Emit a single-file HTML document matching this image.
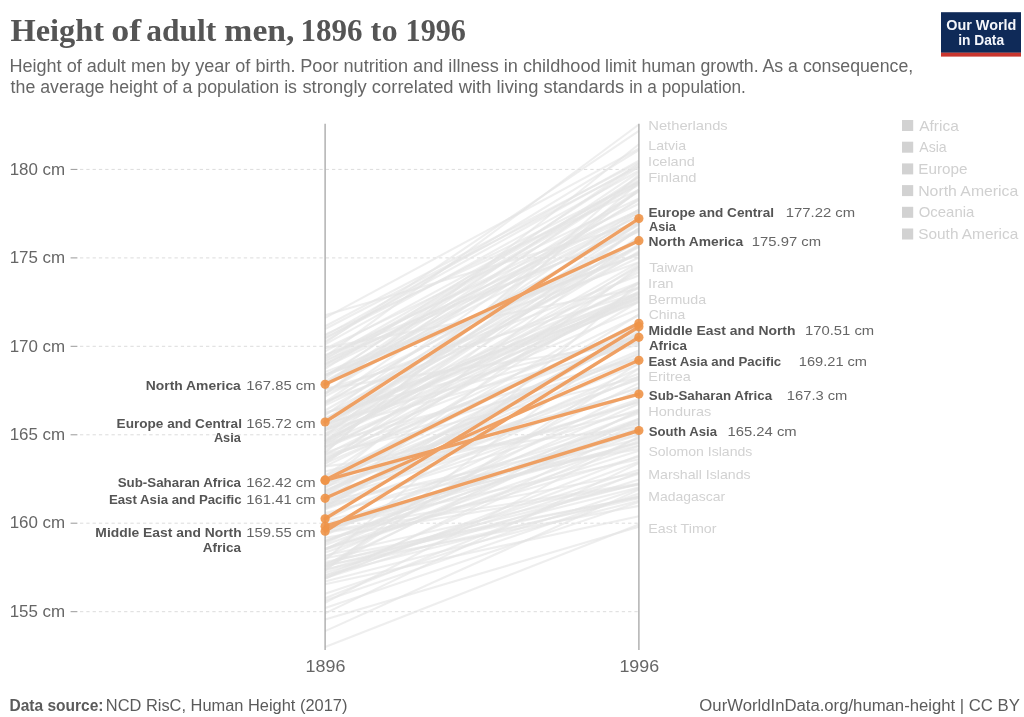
<!DOCTYPE html>
<html lang="en"><head><meta charset="utf-8"><title>Height of adult men, 1896 to 1996</title>
<style>
html,body{margin:0;padding:0;background:#fff;}
body{width:1024px;height:717px;overflow:hidden;}
svg{display:block;font-family:"Liberation Sans",Arial,sans-serif;}
</style></head><body>
<svg width="1024" height="717" viewBox="0 0 1024 717">
<rect width="1024" height="717" fill="#fff"/>
<rect x="941" y="12.2" width="80" height="40.6" fill="#0f2a58"/><rect x="941" y="52.7" width="80" height="3.9" fill="#c9362e"/>
<g stroke="#dcdcdc" stroke-width="1" stroke-dasharray="3.3,3" fill="none">
<line x1="80" y1="169.4" x2="638.9" y2="169.4"/>
<line x1="80" y1="257.9" x2="638.9" y2="257.9"/>
<line x1="80" y1="346.3" x2="638.9" y2="346.3"/>
<line x1="80" y1="434.8" x2="638.9" y2="434.8"/>
<line x1="80" y1="523.2" x2="638.9" y2="523.2"/>
<line x1="80" y1="611.7" x2="638.9" y2="611.7"/>
</g>
<g stroke="#999" stroke-width="1">
<line x1="70.6" y1="169.4" x2="77.4" y2="169.4"/>
<line x1="70.6" y1="257.9" x2="77.4" y2="257.9"/>
<line x1="70.6" y1="346.3" x2="77.4" y2="346.3"/>
<line x1="70.6" y1="434.8" x2="77.4" y2="434.8"/>
<line x1="70.6" y1="523.2" x2="77.4" y2="523.2"/>
<line x1="70.6" y1="611.7" x2="77.4" y2="611.7"/>
</g>
<g stroke="#e3e3e3" stroke-width="2.1" stroke-linecap="butt" stroke-opacity="0.62">
<line x1="325.1" y1="356.9" x2="638.9" y2="124.5"/>
<line x1="325.1" y1="394.1" x2="638.9" y2="144.3"/>
<line x1="325.1" y1="335.7" x2="638.9" y2="160.7"/>
<line x1="325.1" y1="376.4" x2="638.9" y2="176.7"/>
<line x1="325.1" y1="502.0" x2="638.9" y2="266.7"/>
<line x1="325.1" y1="560.3" x2="638.9" y2="282.6"/>
<line x1="325.1" y1="425.9" x2="638.9" y2="298.5"/>
<line x1="325.1" y1="505.5" x2="638.9" y2="314.5"/>
<line x1="325.1" y1="519.7" x2="638.9" y2="376.4"/>
<line x1="325.1" y1="567.4" x2="638.9" y2="410.0"/>
<line x1="325.1" y1="549.7" x2="638.9" y2="450.7"/>
<line x1="325.1" y1="572.7" x2="638.9" y2="473.7"/>
<line x1="325.1" y1="562.1" x2="638.9" y2="496.7"/>
<line x1="325.1" y1="647.0" x2="638.9" y2="524.4"/>
<line x1="325.1" y1="631.1" x2="638.9" y2="489.6"/>
<line x1="325.1" y1="619.6" x2="638.9" y2="526.7"/>
<line x1="325.1" y1="613.4" x2="638.9" y2="463.1"/>
<line x1="325.1" y1="608.1" x2="638.9" y2="502.0"/>
<line x1="325.1" y1="602.8" x2="638.9" y2="436.5"/>
<line x1="325.1" y1="471.5" x2="638.9" y2="394.1"/>
<line x1="325.1" y1="563.5" x2="638.9" y2="483.8"/>
<line x1="325.1" y1="441.3" x2="638.9" y2="272.0"/>
<line x1="325.1" y1="417.9" x2="638.9" y2="296.8"/>
<line x1="325.1" y1="375.5" x2="638.9" y2="219.5"/>
<line x1="325.1" y1="541.2" x2="638.9" y2="434.2"/>
<line x1="325.1" y1="389.5" x2="638.9" y2="292.7"/>
<line x1="325.1" y1="382.6" x2="638.9" y2="222.5"/>
<line x1="325.1" y1="483.8" x2="638.9" y2="287.2"/>
<line x1="325.1" y1="383.1" x2="638.9" y2="246.7"/>
<line x1="325.1" y1="499.8" x2="638.9" y2="402.0"/>
<line x1="325.1" y1="348.6" x2="638.9" y2="198.4"/>
<line x1="325.1" y1="540.7" x2="638.9" y2="421.7"/>
<line x1="325.1" y1="372.0" x2="638.9" y2="254.0"/>
<line x1="325.1" y1="504.3" x2="638.9" y2="434.8"/>
<line x1="325.1" y1="497.4" x2="638.9" y2="373.5"/>
<line x1="325.1" y1="365.1" x2="638.9" y2="210.3"/>
<line x1="325.1" y1="497.0" x2="638.9" y2="378.8"/>
<line x1="325.1" y1="403.8" x2="638.9" y2="223.4"/>
<line x1="325.1" y1="508.7" x2="638.9" y2="368.4"/>
<line x1="325.1" y1="358.3" x2="638.9" y2="203.7"/>
<line x1="325.1" y1="329.0" x2="638.9" y2="166.7"/>
<line x1="325.1" y1="570.3" x2="638.9" y2="331.6"/>
<line x1="325.1" y1="449.4" x2="638.9" y2="282.3"/>
<line x1="325.1" y1="375.3" x2="638.9" y2="262.3"/>
<line x1="325.1" y1="452.8" x2="638.9" y2="174.5"/>
<line x1="325.1" y1="531.9" x2="638.9" y2="472.8"/>
<line x1="325.1" y1="466.4" x2="638.9" y2="315.3"/>
<line x1="325.1" y1="423.6" x2="638.9" y2="336.7"/>
<line x1="325.1" y1="485.0" x2="638.9" y2="350.5"/>
<line x1="325.1" y1="549.2" x2="638.9" y2="411.8"/>
<line x1="325.1" y1="430.2" x2="638.9" y2="297.1"/>
<line x1="325.1" y1="483.4" x2="638.9" y2="321.9"/>
<line x1="325.1" y1="441.6" x2="638.9" y2="262.3"/>
<line x1="325.1" y1="393.0" x2="638.9" y2="275.5"/>
<line x1="325.1" y1="491.4" x2="638.9" y2="333.7"/>
<line x1="325.1" y1="581.6" x2="638.9" y2="500.7"/>
<line x1="325.1" y1="440.9" x2="638.9" y2="211.3"/>
<line x1="325.1" y1="543.2" x2="638.9" y2="403.8"/>
<line x1="325.1" y1="375.0" x2="638.9" y2="253.3"/>
<line x1="325.1" y1="461.3" x2="638.9" y2="294.3"/>
<line x1="325.1" y1="494.2" x2="638.9" y2="335.0"/>
<line x1="325.1" y1="436.2" x2="638.9" y2="189.7"/>
<line x1="325.1" y1="447.3" x2="638.9" y2="327.5"/>
<line x1="325.1" y1="378.5" x2="638.9" y2="163.4"/>
<line x1="325.1" y1="523.4" x2="638.9" y2="442.9"/>
<line x1="325.1" y1="512.9" x2="638.9" y2="439.0"/>
<line x1="325.1" y1="338.5" x2="638.9" y2="165.2"/>
<line x1="325.1" y1="486.8" x2="638.9" y2="379.6"/>
<line x1="325.1" y1="548.5" x2="638.9" y2="456.5"/>
<line x1="325.1" y1="326.3" x2="638.9" y2="162.5"/>
<line x1="325.1" y1="456.7" x2="638.9" y2="358.3"/>
<line x1="325.1" y1="507.6" x2="638.9" y2="409.5"/>
<line x1="325.1" y1="494.5" x2="638.9" y2="387.7"/>
<line x1="325.1" y1="337.8" x2="638.9" y2="181.8"/>
<line x1="325.1" y1="446.8" x2="638.9" y2="293.9"/>
<line x1="325.1" y1="403.1" x2="638.9" y2="224.6"/>
<line x1="325.1" y1="415.3" x2="638.9" y2="190.8"/>
<line x1="325.1" y1="355.3" x2="638.9" y2="231.8"/>
<line x1="325.1" y1="508.0" x2="638.9" y2="331.1"/>
<line x1="325.1" y1="454.4" x2="638.9" y2="377.3"/>
<line x1="325.1" y1="491.2" x2="638.9" y2="352.7"/>
<line x1="325.1" y1="584.2" x2="638.9" y2="516.3"/>
<line x1="325.1" y1="537.7" x2="638.9" y2="484.6"/>
<line x1="325.1" y1="527.4" x2="638.9" y2="413.3"/>
<line x1="325.1" y1="446.6" x2="638.9" y2="228.3"/>
<line x1="325.1" y1="383.3" x2="638.9" y2="172.1"/>
<line x1="325.1" y1="393.5" x2="638.9" y2="176.8"/>
<line x1="325.1" y1="578.7" x2="638.9" y2="427.5"/>
<line x1="325.1" y1="359.0" x2="638.9" y2="179.8"/>
<line x1="325.1" y1="430.3" x2="638.9" y2="246.9"/>
<line x1="325.1" y1="541.6" x2="638.9" y2="419.5"/>
<line x1="325.1" y1="421.0" x2="638.9" y2="252.4"/>
<line x1="325.1" y1="506.7" x2="638.9" y2="328.1"/>
<line x1="325.1" y1="341.5" x2="638.9" y2="150.1"/>
<line x1="325.1" y1="355.5" x2="638.9" y2="210.3"/>
<line x1="325.1" y1="347.9" x2="638.9" y2="288.8"/>
<line x1="325.1" y1="482.5" x2="638.9" y2="411.6"/>
<line x1="325.1" y1="381.0" x2="638.9" y2="215.6"/>
<line x1="325.1" y1="477.2" x2="638.9" y2="322.8"/>
<line x1="325.1" y1="531.5" x2="638.9" y2="418.7"/>
<line x1="325.1" y1="401.8" x2="638.9" y2="282.6"/>
<line x1="325.1" y1="490.3" x2="638.9" y2="364.0"/>
<line x1="325.1" y1="475.6" x2="638.9" y2="269.0"/>
<line x1="325.1" y1="428.6" x2="638.9" y2="293.9"/>
<line x1="325.1" y1="514.9" x2="638.9" y2="422.5"/>
<line x1="325.1" y1="351.3" x2="638.9" y2="181.6"/>
<line x1="325.1" y1="419.4" x2="638.9" y2="287.0"/>
<line x1="325.1" y1="549.6" x2="638.9" y2="389.5"/>
<line x1="325.1" y1="334.6" x2="638.9" y2="189.9"/>
<line x1="325.1" y1="441.3" x2="638.9" y2="251.3"/>
<line x1="325.1" y1="555.7" x2="638.9" y2="484.1"/>
<line x1="325.1" y1="315.2" x2="638.9" y2="223.2"/>
<line x1="325.1" y1="441.3" x2="638.9" y2="266.7"/>
<line x1="325.1" y1="578.2" x2="638.9" y2="455.4"/>
<line x1="325.1" y1="598.2" x2="638.9" y2="472.3"/>
<line x1="325.1" y1="436.3" x2="638.9" y2="283.3"/>
<line x1="325.1" y1="447.1" x2="638.9" y2="299.6"/>
<line x1="325.1" y1="488.0" x2="638.9" y2="301.5"/>
<line x1="325.1" y1="360.5" x2="638.9" y2="229.7"/>
<line x1="325.1" y1="492.6" x2="638.9" y2="357.4"/>
<line x1="325.1" y1="444.3" x2="638.9" y2="236.8"/>
<line x1="325.1" y1="569.5" x2="638.9" y2="362.9"/>
<line x1="325.1" y1="558.2" x2="638.9" y2="497.4"/>
<line x1="325.1" y1="577.3" x2="638.9" y2="461.8"/>
<line x1="325.1" y1="420.2" x2="638.9" y2="292.7"/>
<line x1="325.1" y1="364.5" x2="638.9" y2="184.6"/>
<line x1="325.1" y1="405.4" x2="638.9" y2="257.5"/>
<line x1="325.1" y1="545.0" x2="638.9" y2="429.3"/>
<line x1="325.1" y1="454.7" x2="638.9" y2="297.7"/>
<line x1="325.1" y1="565.3" x2="638.9" y2="505.9"/>
<line x1="325.1" y1="453.0" x2="638.9" y2="341.2"/>
<line x1="325.1" y1="482.2" x2="638.9" y2="337.5"/>
<line x1="325.1" y1="396.2" x2="638.9" y2="239.1"/>
<line x1="325.1" y1="385.6" x2="638.9" y2="200.2"/>
<line x1="325.1" y1="577.9" x2="638.9" y2="479.5"/>
<line x1="325.1" y1="566.5" x2="638.9" y2="487.5"/>
<line x1="325.1" y1="549.0" x2="638.9" y2="441.1"/>
<line x1="325.1" y1="464.1" x2="638.9" y2="228.0"/>
<line x1="325.1" y1="466.4" x2="638.9" y2="427.3"/>
<line x1="325.1" y1="520.7" x2="638.9" y2="445.4"/>
<line x1="325.1" y1="509.2" x2="638.9" y2="399.0"/>
<line x1="325.1" y1="363.8" x2="638.9" y2="212.7"/>
<line x1="325.1" y1="529.2" x2="638.9" y2="442.4"/>
<line x1="325.1" y1="495.8" x2="638.9" y2="402.0"/>
<line x1="325.1" y1="564.8" x2="638.9" y2="419.0"/>
<line x1="325.1" y1="388.6" x2="638.9" y2="342.9"/>
<line x1="325.1" y1="361.9" x2="638.9" y2="183.4"/>
<line x1="325.1" y1="429.4" x2="638.9" y2="344.5"/>
<line x1="325.1" y1="344.4" x2="638.9" y2="170.6"/>
<line x1="325.1" y1="482.3" x2="638.9" y2="236.3"/>
<line x1="325.1" y1="600.5" x2="638.9" y2="493.5"/>
<line x1="325.1" y1="433.9" x2="638.9" y2="301.5"/>
<line x1="325.1" y1="556.5" x2="638.9" y2="423.8"/>
<line x1="325.1" y1="532.6" x2="638.9" y2="483.6"/>
<line x1="325.1" y1="458.5" x2="638.9" y2="336.0"/>
<line x1="325.1" y1="503.6" x2="638.9" y2="328.6"/>
<line x1="325.1" y1="575.0" x2="638.9" y2="496.1"/>
<line x1="325.1" y1="410.5" x2="638.9" y2="230.3"/>
<line x1="325.1" y1="438.8" x2="638.9" y2="296.8"/>
<line x1="325.1" y1="530.6" x2="638.9" y2="400.3"/>
<line x1="325.1" y1="552.6" x2="638.9" y2="445.9"/>
<line x1="325.1" y1="452.1" x2="638.9" y2="182.8"/>
<line x1="325.1" y1="317.8" x2="638.9" y2="148.7"/>
<line x1="325.1" y1="425.7" x2="638.9" y2="230.1"/>
<line x1="325.1" y1="570.6" x2="638.9" y2="469.8"/>
<line x1="325.1" y1="461.3" x2="638.9" y2="291.5"/>
<line x1="325.1" y1="383.8" x2="638.9" y2="181.6"/>
<line x1="325.1" y1="425.4" x2="638.9" y2="244.6"/>
<line x1="325.1" y1="442.4" x2="638.9" y2="308.8"/>
<line x1="325.1" y1="421.0" x2="638.9" y2="293.4"/>
<line x1="325.1" y1="569.4" x2="638.9" y2="498.3"/>
<line x1="325.1" y1="575.9" x2="638.9" y2="437.4"/>
<line x1="325.1" y1="535.4" x2="638.9" y2="383.1"/>
<line x1="325.1" y1="500.0" x2="638.9" y2="449.1"/>
<line x1="325.1" y1="480.4" x2="638.9" y2="354.6"/>
<line x1="325.1" y1="393.0" x2="638.9" y2="199.1"/>
<line x1="325.1" y1="367.0" x2="638.9" y2="216.1"/>
<line x1="325.1" y1="529.2" x2="638.9" y2="427.7"/>
<line x1="325.1" y1="385.6" x2="638.9" y2="191.3"/>
<line x1="325.1" y1="419.5" x2="638.9" y2="209.4"/>
<line x1="325.1" y1="506.6" x2="638.9" y2="333.2"/>
<line x1="325.1" y1="475.8" x2="638.9" y2="324.7"/>
<line x1="325.1" y1="402.2" x2="638.9" y2="189.6"/>
<line x1="325.1" y1="460.4" x2="638.9" y2="264.6"/>
<line x1="325.1" y1="433.3" x2="638.9" y2="245.6"/>
<line x1="325.1" y1="414.6" x2="638.9" y2="241.0"/>
<line x1="325.1" y1="530.1" x2="638.9" y2="431.4"/>
<line x1="325.1" y1="463.2" x2="638.9" y2="328.4"/>
<line x1="325.1" y1="527.8" x2="638.9" y2="459.2"/>
<line x1="325.1" y1="566.5" x2="638.9" y2="368.6"/>
<line x1="325.1" y1="421.5" x2="638.9" y2="240.7"/>
<line x1="325.1" y1="368.9" x2="638.9" y2="166.9"/>
<line x1="325.1" y1="443.2" x2="638.9" y2="357.8"/>
<line x1="325.1" y1="593.8" x2="638.9" y2="488.5"/>
<line x1="325.1" y1="497.9" x2="638.9" y2="387.3"/>
<line x1="325.1" y1="342.6" x2="638.9" y2="130.8"/>
<line x1="325.1" y1="428.9" x2="638.9" y2="223.9"/>
<line x1="325.1" y1="412.5" x2="638.9" y2="336.2"/>
<line x1="325.1" y1="413.3" x2="638.9" y2="302.1"/>
<line x1="325.1" y1="374.8" x2="638.9" y2="254.8"/>
</g>
<g stroke="#a4a4a4" stroke-width="1.3"><line x1="325.1" y1="123.8" x2="325.1" y2="650"/><line x1="638.9" y1="123.8" x2="638.9" y2="650"/></g>
<g stroke="#ef9a58" stroke-width="3.4" stroke-linecap="round" opacity="0.92">
<line x1="325.1" y1="384.3" x2="638.9" y2="240.7"/>
<line x1="325.1" y1="422.0" x2="638.9" y2="218.6"/>
<line x1="325.1" y1="479.9" x2="638.9" y2="323.3"/>
<line x1="325.1" y1="480.4" x2="638.9" y2="394.1"/>
<line x1="325.1" y1="498.3" x2="638.9" y2="360.3"/>
<line x1="325.1" y1="518.8" x2="638.9" y2="326.8"/>
<line x1="325.1" y1="526.2" x2="638.9" y2="430.5"/>
<line x1="325.1" y1="531.2" x2="638.9" y2="337.3"/>
</g>
<g fill="#ee9448" fill-opacity="0.9">
<circle cx="325.1" cy="384.3" r="4.6"/><circle cx="638.9" cy="240.7" r="4.6"/>
<circle cx="325.1" cy="422.0" r="4.6"/><circle cx="638.9" cy="218.6" r="4.6"/>
<circle cx="325.1" cy="479.9" r="4.6"/><circle cx="638.9" cy="323.3" r="4.6"/>
<circle cx="325.1" cy="480.4" r="4.6"/><circle cx="638.9" cy="394.1" r="4.6"/>
<circle cx="325.1" cy="498.3" r="4.6"/><circle cx="638.9" cy="360.3" r="4.6"/>
<circle cx="325.1" cy="518.8" r="4.6"/><circle cx="638.9" cy="326.8" r="4.6"/>
<circle cx="325.1" cy="526.2" r="4.6"/><circle cx="638.9" cy="430.5" r="4.6"/>
<circle cx="325.1" cy="531.2" r="4.6"/><circle cx="638.9" cy="337.3" r="4.6"/>
</g>
<rect x="902" y="120.0" width="11.2" height="11" fill="#d2d2d2"/>
<rect x="902" y="141.7" width="11.2" height="11" fill="#d2d2d2"/>
<rect x="902" y="163.4" width="11.2" height="11" fill="#d2d2d2"/>
<rect x="902" y="185.1" width="11.2" height="11" fill="#d2d2d2"/>
<rect x="902" y="206.8" width="11.2" height="11" fill="#d2d2d2"/>
<rect x="902" y="228.5" width="11.2" height="11" fill="#d2d2d2"/>
<text y="41.3" font-size="31" font-weight="bold" font-family="'Liberation Serif','Times New Roman',serif" fill="#555"><tspan x="10.44" textLength="93.61" lengthAdjust="spacingAndGlyphs">Height</tspan> <tspan x="111.37" textLength="30.02" lengthAdjust="spacingAndGlyphs">of</tspan> <tspan x="146.16" textLength="70.0" lengthAdjust="spacingAndGlyphs">adult</tspan> <tspan x="224.37" textLength="70.15" lengthAdjust="spacingAndGlyphs">men,</tspan> <tspan x="300.5" textLength="62.03" lengthAdjust="spacingAndGlyphs">1896</tspan> <tspan x="370.62" textLength="26.94" lengthAdjust="spacingAndGlyphs">to</tspan> <tspan x="405.57" textLength="60.28" lengthAdjust="spacingAndGlyphs">1996</tspan></text>
<text y="71.5" font-size="17.5" fill="#666"><tspan x="9.41" textLength="286.14" lengthAdjust="spacingAndGlyphs">Height of adult men by year of birth.</tspan> <tspan x="300.2" textLength="300.36" lengthAdjust="spacingAndGlyphs">Poor nutrition and illness in childhood</tspan> <tspan x="604.99" textLength="308.24" lengthAdjust="spacingAndGlyphs">limit human growth. As a consequence,</tspan></text>
<text y="93" font-size="17.5" fill="#666"><tspan x="10.62" textLength="286.4" lengthAdjust="spacingAndGlyphs">the average height of a population is</tspan> <tspan x="302.4" textLength="321.79" lengthAdjust="spacingAndGlyphs">strongly correlated with living standards</tspan> <tspan x="629.13" textLength="116.79" lengthAdjust="spacingAndGlyphs">in a population.</tspan></text>
<text y="30.3" font-size="14" font-weight="bold" fill="#f4f6fb"><tspan x="946.24" textLength="70.12" lengthAdjust="spacingAndGlyphs">Our World</tspan></text>
<text y="45.4" font-size="14" font-weight="bold" fill="#f4f6fb"><tspan x="958.17" textLength="45.95" lengthAdjust="spacingAndGlyphs">in Data</tspan></text>
<text y="174.6" font-size="16" fill="#666"><tspan x="9.69" textLength="55.48" lengthAdjust="spacingAndGlyphs">180 cm</tspan></text>
<text y="263.1" font-size="16" fill="#666"><tspan x="9.69" textLength="55.48" lengthAdjust="spacingAndGlyphs">175 cm</tspan></text>
<text y="351.5" font-size="16" fill="#666"><tspan x="9.69" textLength="55.48" lengthAdjust="spacingAndGlyphs">170 cm</tspan></text>
<text y="439.9" font-size="16" fill="#666"><tspan x="9.69" textLength="55.48" lengthAdjust="spacingAndGlyphs">165 cm</tspan></text>
<text y="528.4" font-size="16" fill="#666"><tspan x="9.69" textLength="55.48" lengthAdjust="spacingAndGlyphs">160 cm</tspan></text>
<text y="616.9" font-size="16" fill="#666"><tspan x="9.69" textLength="55.48" lengthAdjust="spacingAndGlyphs">155 cm</tspan></text>
<text y="671.8" font-size="16" fill="#666"><tspan x="305.62" textLength="39.81" lengthAdjust="spacingAndGlyphs">1896</tspan></text>
<text y="671.8" font-size="16" fill="#666"><tspan x="619.43" textLength="39.69" lengthAdjust="spacingAndGlyphs">1996</tspan></text>
<text y="129.5" font-size="13.5" fill="#d2d2d2"><tspan x="648.27" textLength="79.46" lengthAdjust="spacingAndGlyphs">Netherlands</tspan></text>
<text y="149.5" font-size="13.5" fill="#d2d2d2"><tspan x="648.32" textLength="37.79" lengthAdjust="spacingAndGlyphs">Latvia</tspan></text>
<text y="165.5" font-size="13.5" fill="#d2d2d2"><tspan x="648.14" textLength="46.62" lengthAdjust="spacingAndGlyphs">Iceland</tspan></text>
<text y="182" font-size="13.5" fill="#d2d2d2"><tspan x="648.27" textLength="48.28" lengthAdjust="spacingAndGlyphs">Finland</tspan></text>
<text y="272" font-size="13.5" fill="#d2d2d2"><tspan x="649.17" textLength="44.36" lengthAdjust="spacingAndGlyphs">Taiwan</tspan></text>
<text y="288.2" font-size="13.5" fill="#d2d2d2"><tspan x="648.1" textLength="25.5" lengthAdjust="spacingAndGlyphs">Iran</tspan></text>
<text y="304.2" font-size="13.5" fill="#d2d2d2"><tspan x="648.31" textLength="57.8" lengthAdjust="spacingAndGlyphs">Bermuda</tspan></text>
<text y="319.2" font-size="13.5" fill="#d2d2d2"><tspan x="648.76" textLength="36.4" lengthAdjust="spacingAndGlyphs">China</tspan></text>
<text y="380.7" font-size="13.5" fill="#d2d2d2"><tspan x="648.3" textLength="42.51" lengthAdjust="spacingAndGlyphs">Eritrea</tspan></text>
<text y="415.5" font-size="13.5" fill="#d2d2d2"><tspan x="648.29" textLength="62.94" lengthAdjust="spacingAndGlyphs">Honduras</tspan></text>
<text y="455.5" font-size="13.5" fill="#d2d2d2"><tspan x="648.41" textLength="103.96" lengthAdjust="spacingAndGlyphs">Solomon Islands</tspan></text>
<text y="479.2" font-size="13.5" fill="#d2d2d2"><tspan x="648.32" textLength="102.36" lengthAdjust="spacingAndGlyphs">Marshall Islands</tspan></text>
<text y="501.2" font-size="13.5" fill="#d2d2d2"><tspan x="648.33" textLength="76.84" lengthAdjust="spacingAndGlyphs">Madagascar</tspan></text>
<text y="532.5" font-size="13.5" fill="#d2d2d2"><tspan x="648.31" textLength="68.2" lengthAdjust="spacingAndGlyphs">East Timor</tspan></text>
<text y="216.7" font-size="13.5" font-weight="bold" fill="#555"><tspan x="648.48" textLength="125.52" lengthAdjust="spacingAndGlyphs">Europe and Central</tspan></text>
<text y="216.7" font-size="13.5" fill="#666"><tspan x="785.85" textLength="69.29" lengthAdjust="spacingAndGlyphs">177.22 cm</tspan></text>
<text y="231.2" font-size="13.5" font-weight="bold" fill="#555"><tspan x="649.0" textLength="26.71" lengthAdjust="spacingAndGlyphs">Asia</tspan></text>
<text y="246.2" font-size="13.5" font-weight="bold" fill="#555"><tspan x="648.49" textLength="94.78" lengthAdjust="spacingAndGlyphs">North America</tspan></text>
<text y="246.2" font-size="13.5" fill="#666"><tspan x="751.85" textLength="69.18" lengthAdjust="spacingAndGlyphs">175.97 cm</tspan></text>
<text y="335" font-size="13.5" font-weight="bold" fill="#555"><tspan x="648.49" textLength="147.03" lengthAdjust="spacingAndGlyphs">Middle East and North</tspan></text>
<text y="335" font-size="13.5" fill="#666"><tspan x="805.06" textLength="69.07" lengthAdjust="spacingAndGlyphs">170.51 cm</tspan></text>
<text y="349.5" font-size="13.5" font-weight="bold" fill="#555"><tspan x="648.97" textLength="37.89" lengthAdjust="spacingAndGlyphs">Africa</tspan></text>
<text y="365.5" font-size="13.5" font-weight="bold" fill="#555"><tspan x="648.49" textLength="132.74" lengthAdjust="spacingAndGlyphs">East Asia and Pacific</tspan></text>
<text y="365.5" font-size="13.5" fill="#666"><tspan x="798.87" textLength="68.18" lengthAdjust="spacingAndGlyphs">169.21 cm</tspan></text>
<text y="399.5" font-size="13.5" font-weight="bold" fill="#555"><tspan x="648.76" textLength="123.35" lengthAdjust="spacingAndGlyphs">Sub-Saharan Africa</tspan></text>
<text y="399.5" font-size="13.5" fill="#666"><tspan x="786.86" textLength="60.52" lengthAdjust="spacingAndGlyphs">167.3 cm</tspan></text>
<text y="435.5" font-size="13.5" font-weight="bold" fill="#555"><tspan x="648.77" textLength="68.22" lengthAdjust="spacingAndGlyphs">South Asia</tspan></text>
<text y="435.5" font-size="13.5" fill="#666"><tspan x="727.56" textLength="69.07" lengthAdjust="spacingAndGlyphs">165.24 cm</tspan></text>
<text y="389.9" font-size="13.5" font-weight="bold" fill="#555"><tspan x="145.79" textLength="95.03" lengthAdjust="spacingAndGlyphs">North America</tspan></text>
<text y="389.9" font-size="13.5" fill="#666"><tspan x="246.35" textLength="69.18" lengthAdjust="spacingAndGlyphs">167.85 cm</tspan></text>
<text y="427.8" font-size="13.5" font-weight="bold" fill="#555"><tspan x="116.58" textLength="125.37" lengthAdjust="spacingAndGlyphs">Europe and Central</tspan></text>
<text y="427.8" font-size="13.5" fill="#666"><tspan x="246.35" textLength="69.18" lengthAdjust="spacingAndGlyphs">165.72 cm</tspan></text>
<text y="442.1" font-size="13.5" font-weight="bold" fill="#555"><tspan x="213.89" textLength="27.01" lengthAdjust="spacingAndGlyphs">Asia</tspan></text>
<text y="486.6" font-size="13.5" font-weight="bold" fill="#555"><tspan x="117.66" textLength="123.35" lengthAdjust="spacingAndGlyphs">Sub-Saharan Africa</tspan></text>
<text y="486.6" font-size="13.5" fill="#666"><tspan x="246.35" textLength="69.18" lengthAdjust="spacingAndGlyphs">162.42 cm</tspan></text>
<text y="503.8" font-size="13.5" font-weight="bold" fill="#555"><tspan x="108.89" textLength="132.74" lengthAdjust="spacingAndGlyphs">East Asia and Pacific</tspan></text>
<text y="503.8" font-size="13.5" fill="#666"><tspan x="246.35" textLength="69.18" lengthAdjust="spacingAndGlyphs">161.41 cm</tspan></text>
<text y="537" font-size="13.5" font-weight="bold" fill="#555"><tspan x="95.39" textLength="146.29" lengthAdjust="spacingAndGlyphs">Middle East and North</tspan></text>
<text y="537" font-size="13.5" fill="#666"><tspan x="246.35" textLength="69.18" lengthAdjust="spacingAndGlyphs">159.55 cm</tspan></text>
<text y="551.5" font-size="13.5" font-weight="bold" fill="#555"><tspan x="202.66" textLength="38.27" lengthAdjust="spacingAndGlyphs">Africa</tspan></text>
<text y="130.6" font-size="14.5" fill="#d0d0d0"><tspan x="919.24" textLength="39.55" lengthAdjust="spacingAndGlyphs">Africa</tspan></text>
<text y="152.3" font-size="14.5" fill="#d0d0d0"><tspan x="919.25" textLength="27.43" lengthAdjust="spacingAndGlyphs">Asia</tspan></text>
<text y="174.0" font-size="14.5" fill="#d0d0d0"><tspan x="918.23" textLength="49.2" lengthAdjust="spacingAndGlyphs">Europe</tspan></text>
<text y="195.7" font-size="14.5" fill="#d0d0d0"><tspan x="918.19" textLength="100.13" lengthAdjust="spacingAndGlyphs">North America</tspan></text>
<text y="217.4" font-size="14.5" fill="#d0d0d0"><tspan x="918.75" textLength="55.57" lengthAdjust="spacingAndGlyphs">Oceania</tspan></text>
<text y="239.1" font-size="14.5" fill="#d0d0d0"><tspan x="918.24" textLength="100.06" lengthAdjust="spacingAndGlyphs">South America</tspan></text>
<text y="710.5" font-size="16" fill="#5b5b5b"><tspan x="9.45" font-weight="bold" textLength="94.09" lengthAdjust="spacingAndGlyphs">Data source:</tspan> <tspan x="105.84" textLength="241.57" lengthAdjust="spacingAndGlyphs">NCD RisC, Human Height (2017)</tspan></text>
<text y="710.5" font-size="16" fill="#5b5b5b"><tspan x="699.36" textLength="320.48" lengthAdjust="spacingAndGlyphs">OurWorldInData.org/human-height | CC BY</tspan></text>
</svg></body></html>
